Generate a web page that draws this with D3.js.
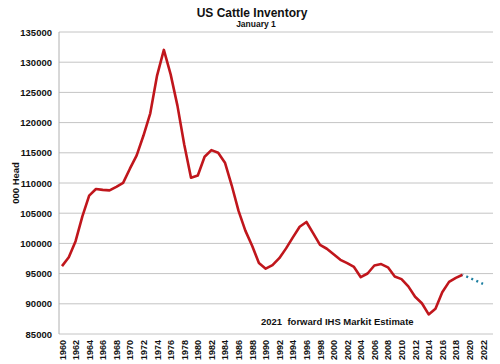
<!DOCTYPE html>
<html><head><meta charset="utf-8">
<script src="https://cdn.jsdelivr.net/npm/d3@7"></script>
<style>body{margin:0;background:#fff}svg{display:block;font-family:Arial,"Liberation Sans",sans-serif}</style>
</head><body><svg id="c" width="500" height="364"></svg>
<script>
const years = d3.range(1960, 2020);
const inventory = [96236,97700,100369,104488,107903,109000,108862,108783,109371,110015,
112369,114578,117862,121539,127788,132028,127980,122810,116375,110864,
111242,114351,115444,115001,113360,109582,105378,102118,99622,96740,
95816,96393,97556,99176,100988,102755,103548,101656,99744,99115,
98199,97277,96723,96100,94403,95018,96342,96573,96035,94521,
94081,92887,91160,90095,88243,89173,91918,93625,94298,94805];
const forecastYears = [2019, 2020, 2021, 2022];
const forecast = [94805, 94300, 93800, 93300];
const yTicks = [85000,90000,95000,100000,105000,110000,115000,120000,125000,130000,135000];
const xTicks = d3.range(1960, 2023, 2);

const svg = d3.select("#c");
const x = d3.scaleLinear().domain([1960, 2022]).range([62, 483]);
const y = d3.scaleLinear().domain([85000, 135000]).range([334, 32]);

// gridlines
svg.append("g").selectAll("line").data(yTicks).join("line")
  .attr("x1", 59).attr("x2", 493).attr("y1", d => y(d)).attr("y2", d => y(d))
  .attr("stroke", "#c4c4c4").attr("stroke-width", 1);
// y axis line
svg.append("line").attr("x1", 59).attr("x2", 59).attr("y1", y(135000)).attr("y2", y(85000))
  .attr("stroke", "#b0b0b0").attr("stroke-width", 1);
// y labels
svg.append("g").selectAll("text").data(yTicks).join("text")
  .attr("x", 52).attr("y", d => y(d) + 3.5).attr("text-anchor", "end")
  .attr("font-size", 9.5).attr("font-weight", "bold").attr("fill", "#111").text(d => d);
// x labels
svg.append("g").selectAll("text").data(xTicks).join("text")
  .attr("transform", d => `translate(${x(d) + 3.5},340) rotate(-90)`)
  .attr("text-anchor", "end").attr("font-size", 9).attr("font-weight", "bold").attr("fill", "#111").text(d => d);
// titles
svg.append("text").attr("x", 252).attr("y", 17).attr("text-anchor", "middle")
  .attr("font-size", 12).attr("font-weight", "bold").attr("fill", "#111").text("US Cattle Inventory");
svg.append("text").attr("x", 256).attr("y", 27).attr("text-anchor", "middle")
  .attr("font-size", 8.5).attr("font-weight", "bold").attr("fill", "#111").text("January 1");
svg.append("text").attr("transform", "translate(19,183) rotate(-90)").attr("text-anchor", "middle")
  .attr("font-size", 9.5).attr("font-weight", "bold").attr("fill", "#111").text("000 Head");
svg.append("text").attr("x", 261).attr("y", 325)
  .attr("font-size", 9.5).attr("font-weight", "bold").attr("fill", "#111").attr("xml:space","preserve")
  .text("2021  forward IHS Markit Estimate");

const line = d3.line().x(d => x(d[0])).y(d => y(d[1]));
svg.append("path").datum(years.map((yr, i) => [yr, inventory[i]])).attr("d", line)
  .attr("fill", "none").attr("stroke", "#c0161c").attr("stroke-width", 2.6).attr("stroke-linejoin", "round");
svg.append("path").datum(forecastYears.map((yr, i) => [yr, forecast[i]])).attr("d", line)
  .attr("fill", "none").attr("stroke", "#1d7fa0").attr("stroke-width", 2.4)
  .attr("stroke-dasharray", "2,3.5").attr("stroke-dashoffset", -4);
</script></body></html>
